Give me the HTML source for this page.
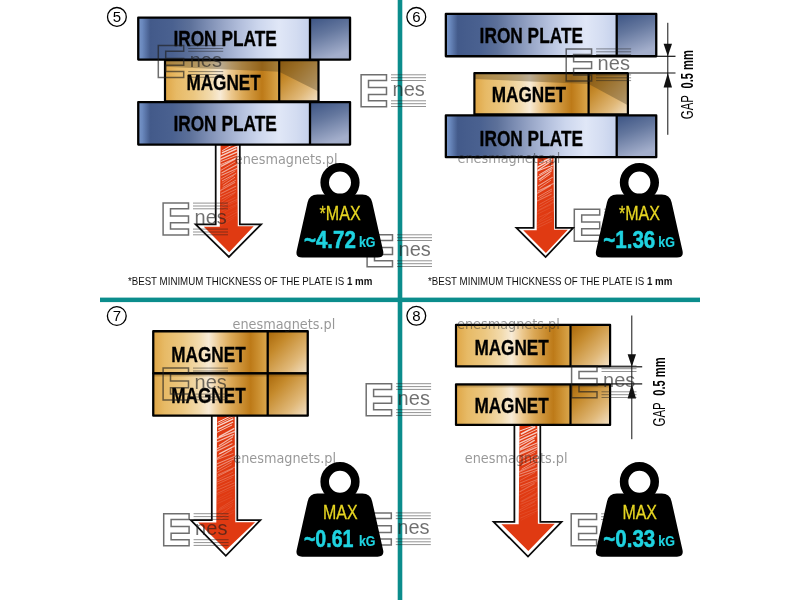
<!DOCTYPE html>
<html lang="en"><head><meta charset="utf-8"><title>Magnet pull force comparison</title>
<style>html,body{margin:0;padding:0;background:#fff}svg{display:block}</style></head>
<body>
<svg width="800" height="600" viewBox="0 0 800 600">
<defs>
<linearGradient id="pf" x1="0" y1="0" x2="1" y2="0">
<stop offset="0" stop-color="#7a98ca"/><stop offset="0.025" stop-color="#6987bc"/><stop offset="0.07" stop-color="#435a8a"/>
<stop offset="0.2" stop-color="#4a6190"/><stop offset="0.3" stop-color="#5c7099"/><stop offset="0.4" stop-color="#7b8cb2"/>
<stop offset="0.5" stop-color="#99a7c8"/><stop offset="0.6" stop-color="#b4c0dd"/><stop offset="0.7" stop-color="#ccd6ed"/>
<stop offset="0.82" stop-color="#e0e7f7"/><stop offset="0.92" stop-color="#d3dcf1"/><stop offset="1" stop-color="#c4d0eb"/>
</linearGradient>
<linearGradient id="ps" x1="0" y1="0" x2="0.35" y2="1">
<stop offset="0" stop-color="#3b5383"/><stop offset="0.45" stop-color="#64779e"/><stop offset="1" stop-color="#a3aecb"/>
</linearGradient>
<linearGradient id="mf" x1="0" y1="0" x2="1" y2="0">
<stop offset="0" stop-color="#dfa646"/><stop offset="0.1" stop-color="#e7ba66"/><stop offset="0.25" stop-color="#ecc780"/>
<stop offset="0.4" stop-color="#f2dbae"/><stop offset="0.485" stop-color="#f8ebd6"/><stop offset="0.58" stop-color="#ecc88e"/>
<stop offset="0.68" stop-color="#dba856"/><stop offset="0.8" stop-color="#c6882a"/><stop offset="0.85" stop-color="#bd7a18"/>
<stop offset="0.92" stop-color="#cb8f30"/><stop offset="1" stop-color="#dba84e"/>
</linearGradient>
<linearGradient id="ms" x1="0" y1="0" x2="1" y2="1">
<stop offset="0" stop-color="#a86608"/><stop offset="0.3" stop-color="#c58a2c"/><stop offset="0.7" stop-color="#e0b878"/><stop offset="1" stop-color="#f3e2c8"/>
</linearGradient>
<linearGradient id="sh" x1="0" y1="0" x2="0" y2="1">
<stop offset="0" stop-color="#5a3a08" stop-opacity="0.55"/><stop offset="1" stop-color="#5a3a08" stop-opacity="0"/>
</linearGradient>
<filter id="noop" filterUnits="userSpaceOnUse" x="0" y="0" width="800" height="600" color-interpolation-filters="sRGB"><feOffset dx="0" dy="0"/></filter>
</defs>
<rect width="800" height="600" fill="#fff"/>
<g filter="url(#noop)">

<rect x="397.7" y="0" width="4.6" height="600" fill="#0b8d8c"/>
<rect x="100" y="297.6" width="600" height="4.5" fill="#0b8d8c"/>
<path d="M215.7,143 L215.7,224.3 L195.6,224.3 L228.9,256.9 L261.2,224.3 L239.8,224.3 L239.8,143" fill="#fff" stroke="#0a0a0a" stroke-width="1.75" stroke-linejoin="miter"/>
<clipPath id="ac1"><path d="M220.6,143.5 L219.79999999999998,226.70000000000002 L203.79999999999998,226.70000000000002 L229.20000000000002,252.29999999999998 L253.7,226.3 L237.8,226.3 L237.20000000000002,143.5 Z"/></clipPath>
<path d="M220.6,143.5 L219.79999999999998,226.70000000000002 L203.79999999999998,226.70000000000002 L229.20000000000002,252.29999999999998 L253.7,226.3 L237.8,226.3 L237.20000000000002,143.5 Z" fill="#e03a12"/>
<g clip-path="url(#ac1)" stroke="#fff" stroke-linecap="round" fill="none">
<path d="M222.6,150.5 L234.8,143.5" stroke-width="0.88" opacity="0.83"/>
<path d="M222.4,152.7 L237.8,145.8" stroke-width="1.31" opacity="0.79"/>
<path d="M219.6,156.7 L236.2,149.0" stroke-width="1.38" opacity="0.76"/>
<path d="M219.7,159.6 L238.1,151.6" stroke-width="1.47" opacity="0.72"/>
<path d="M221.1,161.5 L238.1,154.7" stroke-width="0.89" opacity="0.69"/>
<path d="M220.4,164.7 L237.2,157.5" stroke-width="0.89" opacity="0.66"/>
<path d="M221.5,166.2 L235.3,158.8" stroke-width="1.36" opacity="0.64"/>
<path d="M220.8,170.4 L235.0,162.1" stroke-width="0.77" opacity="0.60"/>
<path d="M221.9,172.8 L236.8,164.7" stroke-width="1.30" opacity="0.57"/>
<path d="M221.7,175.3 L238.0,168.0" stroke-width="1.03" opacity="0.53"/>
<path d="M221.5,178.7 L235.0,171.0" stroke-width="0.77" opacity="0.50"/>
<path d="M222.3,180.8 L235.9,173.5" stroke-width="1.00" opacity="0.47"/>
<path d="M222.1,183.2 L233.8,175.6" stroke-width="0.65" opacity="0.44"/>
<path d="M223.0,185.3 L234.7,177.4" stroke-width="0.97" opacity="0.41"/>
<path d="M222.9,187.5 L235.6,180.3" stroke-width="0.96" opacity="0.39"/>
<path d="M219.6,191.0 L234.7,182.5" stroke-width="1.24" opacity="0.35"/>
<path d="M221.4,193.3 L235.7,186.3" stroke-width="1.11" opacity="0.32"/>
<path d="M220.3,196.6 L235.9,189.3" stroke-width="0.93" opacity="0.28"/>
<path d="M221.8,199.0 L235.4,192.1" stroke-width="0.90" opacity="0.25"/>
<path d="M221.6,202.0 L234.3,193.6" stroke-width="0.65" opacity="0.22"/>
<path d="M222.5,203.7 L235.2,197.5" stroke-width="0.69" opacity="0.18"/>
<path d="M220.5,206.8 L237.7,199.2" stroke-width="0.97" opacity="0.16"/>
<path d="M221.4,208.2 L237.4,201.0" stroke-width="0.61" opacity="0.13"/>
<path d="M221.3,211.1 L238.1,203.9" stroke-width="0.69" opacity="0.12"/>
<path d="M222.7,213.0 L235.9,206.0" stroke-width="0.55" opacity="0.12"/>
<path d="M219.7,217.2 L237.5,209.6" stroke-width="0.49" opacity="0.12"/>
<path d="M221.5,220.7 L237.2,211.9" stroke-width="0.83" opacity="0.12"/>
<path d="M221.9,222.6 L236.4,215.1" stroke-width="0.57" opacity="0.12"/>
<path d="M220.6,226.1 L233.8,218.0" stroke-width="0.47" opacity="0.12"/>
</g>
<path d="M533.6,156 L533.6,227.8 L516.4,227.8 L545.6,257.1 L573.2,227.8 L555.8,227.8 L555.8,156" fill="#fff" stroke="#0a0a0a" stroke-width="1.75" stroke-linejoin="miter"/>
<clipPath id="ac2"><path d="M537.5,156.5 L536.7,230.20000000000002 L523.1999999999999,230.20000000000002 L545.9,252.90000000000003 L567.8000000000001,229.8 L554.1,229.8 L553.5,156.5 Z"/></clipPath>
<path d="M537.5,156.5 L536.7,230.20000000000002 L523.1999999999999,230.20000000000002 L545.9,252.90000000000003 L567.8000000000001,229.8 L554.1,229.8 L553.5,156.5 Z" fill="#e03a12"/>
<g clip-path="url(#ac2)" stroke="#fff" stroke-linecap="round" fill="none">
<path d="M539.8,163.2 L554.2,156.2" stroke-width="1.59" opacity="0.82"/>
<path d="M537.6,167.2 L551.8,159.4" stroke-width="1.32" opacity="0.78"/>
<path d="M537.9,170.2 L551.2,161.3" stroke-width="1.10" opacity="0.75"/>
<path d="M537.4,171.1 L554.3,164.5" stroke-width="1.09" opacity="0.71"/>
<path d="M539.6,174.6 L552.1,167.2" stroke-width="1.02" opacity="0.68"/>
<path d="M537.0,177.5 L552.2,168.8" stroke-width="0.96" opacity="0.65"/>
<path d="M539.3,179.6 L551.2,171.0" stroke-width="1.39" opacity="0.62"/>
<path d="M539.9,181.2 L550.2,174.1" stroke-width="0.95" opacity="0.58"/>
<path d="M538.4,185.7 L552.3,177.4" stroke-width="1.01" opacity="0.54"/>
<path d="M539.6,187.9 L550.5,180.5" stroke-width="0.90" opacity="0.50"/>
<path d="M538.2,191.0 L553.5,183.6" stroke-width="1.15" opacity="0.45"/>
<path d="M537.4,193.2 L550.4,185.6" stroke-width="1.26" opacity="0.42"/>
<path d="M538.3,196.7 L551.6,189.2" stroke-width="0.95" opacity="0.38"/>
<path d="M539.8,198.0 L551.7,191.0" stroke-width="0.94" opacity="0.35"/>
<path d="M537.2,201.0 L551.1,194.2" stroke-width="1.17" opacity="0.31"/>
<path d="M539.6,204.3 L554.0,196.4" stroke-width="0.71" opacity="0.28"/>
<path d="M539.6,207.0 L552.6,199.5" stroke-width="0.69" opacity="0.24"/>
<path d="M538.9,210.0 L554.1,202.0" stroke-width="0.65" opacity="0.21"/>
<path d="M537.4,211.4 L550.8,204.9" stroke-width="0.54" opacity="0.17"/>
<path d="M536.7,214.4 L550.0,208.0" stroke-width="0.74" opacity="0.13"/>
<path d="M539.1,217.2 L554.0,210.5" stroke-width="0.85" opacity="0.12"/>
<path d="M539.1,220.7 L550.4,212.3" stroke-width="0.91" opacity="0.12"/>
<path d="M537.3,222.8 L551.5,216.1" stroke-width="0.73" opacity="0.12"/>
<path d="M536.9,225.6 L551.9,218.3" stroke-width="0.92" opacity="0.12"/>
<path d="M537.4,227.8 L551.8,221.0" stroke-width="0.94" opacity="0.12"/>
</g>
<path d="M211.8,414 L211.8,520.2 L190.8,520.2 L225.8,555.8 L260.4,520.2 L237.3,520.2 L237.3,414" fill="#fff" stroke="#0a0a0a" stroke-width="1.75" stroke-linejoin="miter"/>
<clipPath id="ac3"><path d="M217.10000000000002,414.5 L216.3,522.6 L198.20000000000002,522.6 L226.10000000000002,550.0 L255.09999999999997,522.2 L235.3,522.2 L234.70000000000002,414.5 Z"/></clipPath>
<path d="M217.10000000000002,414.5 L216.3,522.6 L198.20000000000002,522.6 L226.10000000000002,550.0 L255.09999999999997,522.2 L235.3,522.2 L234.70000000000002,414.5 Z" fill="#e03a12"/>
<g clip-path="url(#ac3)" stroke="#fff" stroke-linecap="round" fill="none">
<path d="M218.0,422.2 L234.0,414.4" stroke-width="0.97" opacity="0.83"/>
<path d="M219.0,423.6 L234.5,416.1" stroke-width="0.77" opacity="0.81"/>
<path d="M217.8,426.1 L232.8,419.1" stroke-width="1.46" opacity="0.79"/>
<path d="M218.7,429.1 L232.7,422.2" stroke-width="1.18" opacity="0.76"/>
<path d="M216.2,432.7 L231.8,425.1" stroke-width="0.98" opacity="0.73"/>
<path d="M219.3,436.6 L233.9,428.6" stroke-width="1.30" opacity="0.70"/>
<path d="M216.4,438.8 L235.1,431.4" stroke-width="1.42" opacity="0.67"/>
<path d="M217.2,441.7 L233.4,434.6" stroke-width="1.20" opacity="0.65"/>
<path d="M219.3,445.6 L232.6,436.9" stroke-width="1.15" opacity="0.62"/>
<path d="M216.7,449.1 L231.8,440.2" stroke-width="1.20" opacity="0.59"/>
<path d="M216.8,451.1 L232.0,443.7" stroke-width="1.21" opacity="0.57"/>
<path d="M219.6,453.6 L235.3,445.6" stroke-width="1.31" opacity="0.55"/>
<path d="M218.8,454.3 L231.8,447.6" stroke-width="0.87" opacity="0.53"/>
<path d="M217.3,458.3 L231.7,449.8" stroke-width="1.18" opacity="0.51"/>
<path d="M216.4,459.8 L233.0,453.5" stroke-width="0.86" opacity="0.48"/>
<path d="M216.6,464.0 L235.5,456.0" stroke-width="1.07" opacity="0.45"/>
<path d="M217.4,466.7 L233.6,459.0" stroke-width="1.25" opacity="0.42"/>
<path d="M218.3,469.5 L231.5,462.0" stroke-width="0.99" opacity="0.39"/>
<path d="M217.2,472.5 L231.3,464.9" stroke-width="0.76" opacity="0.37"/>
<path d="M218.1,474.7 L235.6,466.8" stroke-width="0.87" opacity="0.35"/>
<path d="M217.7,476.3 L232.6,468.9" stroke-width="1.00" opacity="0.33"/>
<path d="M216.3,480.5 L232.7,472.3" stroke-width="0.59" opacity="0.30"/>
<path d="M217.2,481.9 L234.1,474.9" stroke-width="0.95" opacity="0.28"/>
<path d="M217.4,484.1 L232.2,477.5" stroke-width="0.75" opacity="0.25"/>
<path d="M216.9,487.6 L232.1,480.9" stroke-width="0.74" opacity="0.22"/>
<path d="M216.5,490.4 L234.3,482.9" stroke-width="0.97" opacity="0.20"/>
<path d="M216.7,493.6 L234.2,485.4" stroke-width="1.04" opacity="0.18"/>
<path d="M216.5,495.3 L233.3,488.1" stroke-width="0.65" opacity="0.15"/>
<path d="M217.1,499.4 L232.1,491.3" stroke-width="0.62" opacity="0.12"/>
<path d="M217.1,501.2 L232.1,494.3" stroke-width="0.58" opacity="0.12"/>
<path d="M217.5,503.5 L231.6,497.2" stroke-width="0.73" opacity="0.12"/>
<path d="M219.6,508.4 L233.7,499.6" stroke-width="0.97" opacity="0.12"/>
<path d="M219.0,509.9 L232.7,502.5" stroke-width="0.88" opacity="0.12"/>
<path d="M216.3,511.9 L233.1,504.5" stroke-width="0.59" opacity="0.12"/>
<path d="M218.5,515.2 L231.5,506.5" stroke-width="0.93" opacity="0.12"/>
<path d="M218.7,516.8 L234.9,509.5" stroke-width="0.46" opacity="0.12"/>
<path d="M219.4,519.6 L232.9,512.7" stroke-width="0.65" opacity="0.12"/>
</g>
<path d="M514.4,424 L514.4,521.8 L493.6,521.8 L528,556.6 L561.6,521.8 L540.3,521.8 L540.3,424" fill="#fff" stroke="#0a0a0a" stroke-width="1.75" stroke-linejoin="miter"/>
<clipPath id="ac4"><path d="M519.5,424.5 L518.7,524.1999999999999 L501.40000000000003,524.1999999999999 L528.3,551.0 L554.8000000000001,523.8 L537.9,523.8 L537.3,424.5 Z"/></clipPath>
<path d="M519.5,424.5 L518.7,524.1999999999999 L501.40000000000003,524.1999999999999 L528.3,551.0 L554.8000000000001,523.8 L537.9,523.8 L537.3,424.5 Z" fill="#e03a12"/>
<g clip-path="url(#ac4)" stroke="#fff" stroke-linecap="round" fill="none">
<path d="M518.9,431.3 L536.5,424.9" stroke-width="0.97" opacity="0.83"/>
<path d="M521.3,434.0 L534.9,427.0" stroke-width="1.54" opacity="0.80"/>
<path d="M518.9,437.8 L537.3,429.1" stroke-width="0.89" opacity="0.78"/>
<path d="M519.2,440.3 L536.9,432.3" stroke-width="1.41" opacity="0.75"/>
<path d="M518.8,443.6 L535.6,435.8" stroke-width="1.45" opacity="0.72"/>
<path d="M518.8,446.3 L534.1,438.0" stroke-width="1.10" opacity="0.69"/>
<path d="M520.5,448.6 L534.3,440.4" stroke-width="1.44" opacity="0.67"/>
<path d="M520.0,450.1 L537.6,442.7" stroke-width="1.17" opacity="0.64"/>
<path d="M520.7,452.7 L537.0,445.1" stroke-width="0.73" opacity="0.62"/>
<path d="M519.2,454.5 L536.4,447.4" stroke-width="1.46" opacity="0.60"/>
<path d="M521.1,457.6 L536.9,449.5" stroke-width="0.94" opacity="0.58"/>
<path d="M519.3,459.8 L534.9,452.4" stroke-width="0.71" opacity="0.55"/>
<path d="M520.1,462.5 L538.1,454.2" stroke-width="0.79" opacity="0.53"/>
<path d="M521.9,465.0 L538.2,457.4" stroke-width="1.18" opacity="0.50"/>
<path d="M521.8,469.1 L535.5,461.2" stroke-width="0.93" opacity="0.47"/>
<path d="M519.0,471.7 L536.6,463.4" stroke-width="0.94" opacity="0.44"/>
<path d="M519.1,472.5 L534.8,465.5" stroke-width="0.65" opacity="0.42"/>
<path d="M520.0,474.0 L537.4,467.8" stroke-width="1.29" opacity="0.40"/>
<path d="M519.0,477.1 L538.1,469.9" stroke-width="1.07" opacity="0.38"/>
<path d="M520.4,480.3 L534.8,472.5" stroke-width="0.67" opacity="0.34"/>
<path d="M519.9,483.0 L538.1,475.9" stroke-width="0.74" opacity="0.32"/>
<path d="M520.2,486.0 L538.2,479.2" stroke-width="1.11" opacity="0.29"/>
<path d="M521.5,487.8 L537.7,480.8" stroke-width="0.71" opacity="0.26"/>
<path d="M519.9,491.8 L534.2,483.7" stroke-width="1.17" opacity="0.24"/>
<path d="M518.8,495.3 L537.4,486.7" stroke-width="0.84" opacity="0.20"/>
<path d="M520.8,498.1 L534.7,490.0" stroke-width="0.73" opacity="0.17"/>
<path d="M520.9,501.4 L537.1,492.6" stroke-width="0.90" opacity="0.14"/>
<path d="M521.9,501.8 L535.3,494.8" stroke-width="1.08" opacity="0.12"/>
<path d="M520.8,504.2 L538.0,497.2" stroke-width="1.06" opacity="0.12"/>
<path d="M521.7,506.7 L537.3,499.8" stroke-width="0.91" opacity="0.12"/>
<path d="M518.9,510.3 L534.7,501.8" stroke-width="0.97" opacity="0.12"/>
<path d="M519.2,512.1 L535.3,504.6" stroke-width="0.95" opacity="0.12"/>
<path d="M520.3,514.6 L538.2,508.0" stroke-width="0.71" opacity="0.12"/>
<path d="M520.6,518.0 L537.7,510.5" stroke-width="0.90" opacity="0.12"/>
<path d="M521.4,520.1 L534.6,513.4" stroke-width="0.45" opacity="0.12"/>
</g>
<rect x="165.0" y="60.1" width="114.20" height="41.30" fill="url(#mf)"/>
<rect x="279.2" y="60.1" width="39.30" height="41.30" fill="url(#ms)"/>
<polygon points="165.0,60.1 279.2,60.1 279.2,71.7 165.0,66.7" fill="#4a3a1c" opacity="0.36"/>
<polygon points="279.2,60.1 318.5,60.1 318.5,91.6 279.2,71.7" fill="#4a3a1c" opacity="0.36"/>
<rect x="165.0" y="60.1" width="153.50" height="41.30" fill="none" stroke="#000" stroke-width="2.2" stroke-linejoin="round"/>
<line x1="279.2" y1="60.1" x2="279.2" y2="101.4" stroke="#000" stroke-width="2.2"/>
<text x="186.4" y="89.7" font-family="Liberation Sans, Arial, sans-serif" font-size="21.2" font-weight="bold" fill="#000" text-anchor="start" textLength="74.4" lengthAdjust="spacingAndGlyphs" stroke="#000" stroke-width="0.3" stroke-linejoin="round">MAGNET</text>
<rect x="138.25" y="17.549999999999997" width="171.75" height="42.00" fill="url(#pf)"/>
<rect x="310" y="17.549999999999997" width="40.05" height="42.00" fill="url(#ps)"/>
<rect x="138.25" y="17.549999999999997" width="211.80" height="42.00" fill="none" stroke="#000" stroke-width="2.3" stroke-linejoin="round"/>
<line x1="310" y1="17.549999999999997" x2="310" y2="59.550000000000004" stroke="#000" stroke-width="2.3"/>
<text x="173.4" y="46.0" font-family="Liberation Sans, Arial, sans-serif" font-size="21.2" font-weight="bold" fill="#000" text-anchor="start" textLength="103.4" lengthAdjust="spacingAndGlyphs" stroke="#000" stroke-width="0.3" stroke-linejoin="round">IRON PLATE</text>
<rect x="138.25" y="102.05000000000001" width="171.75" height="42.50" fill="url(#pf)"/>
<rect x="310" y="102.05000000000001" width="40.05" height="42.50" fill="url(#ps)"/>
<rect x="138.25" y="102.05000000000001" width="211.80" height="42.50" fill="none" stroke="#000" stroke-width="2.3" stroke-linejoin="round"/>
<line x1="310" y1="102.05000000000001" x2="310" y2="144.54999999999998" stroke="#000" stroke-width="2.3"/>
<text x="173.4" y="130.8" font-family="Liberation Sans, Arial, sans-serif" font-size="21.2" font-weight="bold" fill="#000" text-anchor="start" textLength="103.4" lengthAdjust="spacingAndGlyphs" stroke="#000" stroke-width="0.3" stroke-linejoin="round">IRON PLATE</text>
<rect x="474.40000000000003" y="73.1" width="114.20" height="41.30" fill="url(#mf)"/>
<rect x="588.6" y="73.1" width="39.30" height="41.30" fill="url(#ms)"/>
<polygon points="474.40000000000003,73.1 588.6,73.1 588.6,84.0 474.40000000000003,79.0" fill="#4a3a1c" opacity="0.36"/>
<polygon points="588.6,73.1 627.9,73.1 627.9,105.19999999999999 588.6,84.0" fill="#4a3a1c" opacity="0.36"/>
<rect x="474.40000000000003" y="73.1" width="153.50" height="41.30" fill="none" stroke="#000" stroke-width="2.2" stroke-linejoin="round"/>
<line x1="588.6" y1="73.1" x2="588.6" y2="114.4" stroke="#000" stroke-width="2.2"/>
<text x="491.7" y="102.4" font-family="Liberation Sans, Arial, sans-serif" font-size="21.2" font-weight="bold" fill="#000" text-anchor="start" textLength="74.4" lengthAdjust="spacingAndGlyphs" stroke="#000" stroke-width="0.3" stroke-linejoin="round">MAGNET</text>
<rect x="445.84999999999997" y="13.950000000000001" width="170.85" height="42.30" fill="url(#pf)"/>
<rect x="616.7" y="13.950000000000001" width="39.55" height="42.30" fill="url(#ps)"/>
<rect x="445.84999999999997" y="13.950000000000001" width="210.40" height="42.30" fill="none" stroke="#000" stroke-width="2.3" stroke-linejoin="round"/>
<line x1="616.7" y1="13.950000000000001" x2="616.7" y2="56.25" stroke="#000" stroke-width="2.3"/>
<text x="479.6" y="43.3" font-family="Liberation Sans, Arial, sans-serif" font-size="21.2" font-weight="bold" fill="#000" text-anchor="start" textLength="103.4" lengthAdjust="spacingAndGlyphs" stroke="#000" stroke-width="0.3" stroke-linejoin="round">IRON PLATE</text>
<rect x="445.84999999999997" y="115.45" width="170.85" height="41.70" fill="url(#pf)"/>
<rect x="616.7" y="115.45" width="39.55" height="41.70" fill="url(#ps)"/>
<rect x="445.84999999999997" y="115.45" width="210.40" height="41.70" fill="none" stroke="#000" stroke-width="2.3" stroke-linejoin="round"/>
<line x1="616.7" y1="115.45" x2="616.7" y2="157.15" stroke="#000" stroke-width="2.3"/>
<text x="479.6" y="145.6" font-family="Liberation Sans, Arial, sans-serif" font-size="21.2" font-weight="bold" fill="#000" text-anchor="start" textLength="103.4" lengthAdjust="spacingAndGlyphs" stroke="#000" stroke-width="0.3" stroke-linejoin="round">IRON PLATE</text>
<line x1="667.8" y1="22.8" x2="667.8" y2="134.8" stroke="#111" stroke-width="1"/>
<line x1="657" y1="56.3" x2="675.5" y2="56.3" stroke="#111" stroke-width="1.2"/>
<line x1="629" y1="73" x2="675.5" y2="73" stroke="#111" stroke-width="1.2"/>
<polygon points="667.8,56.3 663.5999999999999,43.8 672.0,43.8" fill="#111"/>
<polygon points="667.8,73 663.5999999999999,87.5 672.0,87.5" fill="#111"/>
<g transform="translate(693.3,118.7) rotate(-90)">
<text x="-0.5" y="0" font-family="Liberation Sans, Arial, sans-serif" font-size="16.2" fill="#000" textLength="24.2" lengthAdjust="spacingAndGlyphs">GAP</text>
<text x="30.3" y="0" font-family="Liberation Sans, Arial, sans-serif" font-size="16.2" font-weight="bold" fill="#000" textLength="38.2" lengthAdjust="spacingAndGlyphs">0.5 mm</text>
</g>
<rect x="153.25" y="331.25" width="114.45" height="42.15" fill="url(#mf)"/>
<rect x="267.7" y="331.25" width="40.05" height="42.15" fill="url(#ms)"/>
<rect x="153.25" y="331.25" width="154.50" height="42.15" fill="none" stroke="#000" stroke-width="2.3" stroke-linejoin="round"/>
<line x1="267.7" y1="331.25" x2="267.7" y2="373.40000000000003" stroke="#000" stroke-width="2.3"/>
<text x="171.3" y="361.5" font-family="Liberation Sans, Arial, sans-serif" font-size="21.2" font-weight="bold" fill="#000" text-anchor="start" textLength="74.4" lengthAdjust="spacingAndGlyphs" stroke="#000" stroke-width="0.3" stroke-linejoin="round">MAGNET</text>
<rect x="153.25" y="373.4" width="114.45" height="42.25" fill="url(#mf)"/>
<rect x="267.7" y="373.4" width="40.05" height="42.25" fill="url(#ms)"/>
<rect x="153.25" y="373.4" width="154.50" height="4" fill="url(#sh)"/>
<rect x="153.25" y="373.4" width="154.50" height="42.25" fill="none" stroke="#000" stroke-width="2.3" stroke-linejoin="round"/>
<line x1="267.7" y1="373.4" x2="267.7" y2="415.65000000000003" stroke="#000" stroke-width="2.3"/>
<text x="171.3" y="403.4" font-family="Liberation Sans, Arial, sans-serif" font-size="21.2" font-weight="bold" fill="#000" text-anchor="start" textLength="74.4" lengthAdjust="spacingAndGlyphs" stroke="#000" stroke-width="0.3" stroke-linejoin="round">MAGNET</text>
<rect x="456.0" y="324.8" width="114.50" height="41.60" fill="url(#mf)"/>
<rect x="570.5" y="324.8" width="39.60" height="41.60" fill="url(#ms)"/>
<rect x="456.0" y="324.8" width="154.10" height="41.60" fill="none" stroke="#000" stroke-width="2.2" stroke-linejoin="round"/>
<line x1="570.5" y1="324.8" x2="570.5" y2="366.4" stroke="#000" stroke-width="2.2"/>
<text x="474.4" y="354.6" font-family="Liberation Sans, Arial, sans-serif" font-size="21.2" font-weight="bold" fill="#000" text-anchor="start" textLength="74.4" lengthAdjust="spacingAndGlyphs" stroke="#000" stroke-width="0.3" stroke-linejoin="round">MAGNET</text>
<rect x="456.0" y="384.3" width="114.50" height="40.60" fill="url(#mf)"/>
<rect x="570.5" y="384.3" width="39.60" height="40.60" fill="url(#ms)"/>
<rect x="456.0" y="384.3" width="154.10" height="4" fill="url(#sh)"/>
<rect x="456.0" y="384.3" width="154.10" height="40.60" fill="none" stroke="#000" stroke-width="2.2" stroke-linejoin="round"/>
<line x1="570.5" y1="384.3" x2="570.5" y2="424.9" stroke="#000" stroke-width="2.2"/>
<text x="474.4" y="413.4" font-family="Liberation Sans, Arial, sans-serif" font-size="21.2" font-weight="bold" fill="#000" text-anchor="start" textLength="74.4" lengthAdjust="spacingAndGlyphs" stroke="#000" stroke-width="0.3" stroke-linejoin="round">MAGNET</text>
<line x1="631.8" y1="315.5" x2="631.8" y2="439.2" stroke="#111" stroke-width="1"/>
<line x1="611" y1="366.8" x2="642.2" y2="366.8" stroke="#111" stroke-width="1.2"/>
<line x1="611" y1="383.9" x2="642.2" y2="383.9" stroke="#111" stroke-width="1.2"/>
<polygon points="631.8,366.8 627.5999999999999,354.3 636.0,354.3" fill="#111"/>
<polygon points="631.8,383.9 627.5999999999999,398.4 636.0,398.4" fill="#111"/>
<g transform="translate(664.8,426) rotate(-90)">
<text x="-0.5" y="0" font-family="Liberation Sans, Arial, sans-serif" font-size="16.2" fill="#000" textLength="24.2" lengthAdjust="spacingAndGlyphs">GAP</text>
<text x="30.3" y="0" font-family="Liberation Sans, Arial, sans-serif" font-size="16.2" font-weight="bold" fill="#000" textLength="38.2" lengthAdjust="spacingAndGlyphs">0.5 mm</text>
</g>
<text x="127.9" y="285" font-family="Liberation Sans, Arial, sans-serif" font-size="11.5" fill="#111" textLength="244.5" lengthAdjust="spacingAndGlyphs">*BEST MINIMUM THICKNESS OF THE PLATE IS <tspan font-weight="bold">1 mm</tspan></text>
<text x="427.9" y="285" font-family="Liberation Sans, Arial, sans-serif" font-size="11.5" fill="#111" textLength="244.5" lengthAdjust="spacingAndGlyphs">*BEST MINIMUM THICKNESS OF THE PLATE IS <tspan font-weight="bold">1 mm</tspan></text>
<circle cx="116.9" cy="16.9" r="9.4" fill="none" stroke="#000" stroke-width="1.3"/>
<text x="116.9" y="22.299999999999997" font-family="Liberation Sans, Arial, sans-serif" font-size="15" fill="#000" text-anchor="middle">5</text>
<circle cx="416.3" cy="16.9" r="9.4" fill="none" stroke="#000" stroke-width="1.3"/>
<text x="416.3" y="22.299999999999997" font-family="Liberation Sans, Arial, sans-serif" font-size="15" fill="#000" text-anchor="middle">6</text>
<circle cx="116.8" cy="316" r="9.4" fill="none" stroke="#000" stroke-width="1.3"/>
<text x="116.8" y="321.4" font-family="Liberation Sans, Arial, sans-serif" font-size="15" fill="#000" text-anchor="middle">7</text>
<circle cx="416.3" cy="315.8" r="9.4" fill="none" stroke="#000" stroke-width="1.3"/>
<text x="416.3" y="321.2" font-family="Liberation Sans, Arial, sans-serif" font-size="15" fill="#000" text-anchor="middle">8</text>
<g transform="translate(157.7,45)">
<path d="M0.6,0.6 H26 V6.3 H8 V13.4 H26 V20.2 H8 V26.6 H26 V32.6 H0.6 Z" fill="none" stroke="rgba(30,30,30,0.64)" stroke-width="1.5" stroke-linejoin="miter"/>
<line x1="30.5" y1="0.6" x2="65.5" y2="0.6" stroke="rgba(30,30,30,0.64)" stroke-width="0.75"/>
<line x1="30.5" y1="3.5" x2="65.5" y2="3.5" stroke="rgba(30,30,30,0.64)" stroke-width="0.75"/>
<line x1="30.5" y1="6.3" x2="65.5" y2="6.3" stroke="rgba(30,30,30,0.64)" stroke-width="0.75"/>
<line x1="30.5" y1="26.6" x2="65.5" y2="26.6" stroke="rgba(30,30,30,0.64)" stroke-width="0.75"/>
<line x1="30.5" y1="29.5" x2="65.5" y2="29.5" stroke="rgba(30,30,30,0.64)" stroke-width="0.75"/>
<line x1="30.5" y1="32.3" x2="65.5" y2="32.3" stroke="rgba(30,30,30,0.64)" stroke-width="0.75"/>
<text x="32" y="21.6" font-family="Liberation Sans, Arial, sans-serif" font-size="20.5" fill="rgba(30,30,30,0.64)" textLength="32.3" lengthAdjust="spacingAndGlyphs">nes</text>
</g>
<g transform="translate(360.5,74.2)">
<path d="M0.6,0.6 H26 V6.3 H8 V13.4 H26 V20.2 H8 V26.6 H26 V32.6 H0.6 Z" fill="none" stroke="rgba(30,30,30,0.64)" stroke-width="1.5" stroke-linejoin="miter"/>
<line x1="30.5" y1="0.6" x2="65.5" y2="0.6" stroke="rgba(30,30,30,0.64)" stroke-width="0.75"/>
<line x1="30.5" y1="3.5" x2="65.5" y2="3.5" stroke="rgba(30,30,30,0.64)" stroke-width="0.75"/>
<line x1="30.5" y1="6.3" x2="65.5" y2="6.3" stroke="rgba(30,30,30,0.64)" stroke-width="0.75"/>
<line x1="30.5" y1="26.6" x2="65.5" y2="26.6" stroke="rgba(30,30,30,0.64)" stroke-width="0.75"/>
<line x1="30.5" y1="29.5" x2="65.5" y2="29.5" stroke="rgba(30,30,30,0.64)" stroke-width="0.75"/>
<line x1="30.5" y1="32.3" x2="65.5" y2="32.3" stroke="rgba(30,30,30,0.64)" stroke-width="0.75"/>
<text x="32" y="21.6" font-family="Liberation Sans, Arial, sans-serif" font-size="20.5" fill="rgba(30,30,30,0.64)" textLength="32.3" lengthAdjust="spacingAndGlyphs">nes</text>
</g>
<g transform="translate(565.6,48.3)">
<path d="M0.6,0.6 H26 V6.3 H8 V13.4 H26 V20.2 H8 V26.6 H26 V32.6 H0.6 Z" fill="none" stroke="rgba(30,30,30,0.64)" stroke-width="1.5" stroke-linejoin="miter"/>
<line x1="30.5" y1="0.6" x2="65.5" y2="0.6" stroke="rgba(30,30,30,0.64)" stroke-width="0.75"/>
<line x1="30.5" y1="3.5" x2="65.5" y2="3.5" stroke="rgba(30,30,30,0.64)" stroke-width="0.75"/>
<line x1="30.5" y1="6.3" x2="65.5" y2="6.3" stroke="rgba(30,30,30,0.64)" stroke-width="0.75"/>
<line x1="30.5" y1="26.6" x2="65.5" y2="26.6" stroke="rgba(30,30,30,0.64)" stroke-width="0.75"/>
<line x1="30.5" y1="29.5" x2="65.5" y2="29.5" stroke="rgba(30,30,30,0.64)" stroke-width="0.75"/>
<line x1="30.5" y1="32.3" x2="65.5" y2="32.3" stroke="rgba(30,30,30,0.64)" stroke-width="0.75"/>
<text x="32" y="21.6" font-family="Liberation Sans, Arial, sans-serif" font-size="20.5" fill="rgba(30,30,30,0.64)" textLength="32.3" lengthAdjust="spacingAndGlyphs">nes</text>
</g>
<g transform="translate(162.5,202.5)">
<path d="M0.6,0.6 H26 V6.3 H8 V13.4 H26 V20.2 H8 V26.6 H26 V32.6 H0.6 Z" fill="none" stroke="rgba(30,30,30,0.64)" stroke-width="1.5" stroke-linejoin="miter"/>
<line x1="30.5" y1="0.6" x2="65.5" y2="0.6" stroke="rgba(30,30,30,0.64)" stroke-width="0.75"/>
<line x1="30.5" y1="3.5" x2="65.5" y2="3.5" stroke="rgba(30,30,30,0.64)" stroke-width="0.75"/>
<line x1="30.5" y1="6.3" x2="65.5" y2="6.3" stroke="rgba(30,30,30,0.64)" stroke-width="0.75"/>
<line x1="30.5" y1="26.6" x2="65.5" y2="26.6" stroke="rgba(30,30,30,0.64)" stroke-width="0.75"/>
<line x1="30.5" y1="29.5" x2="65.5" y2="29.5" stroke="rgba(30,30,30,0.64)" stroke-width="0.75"/>
<line x1="30.5" y1="32.3" x2="65.5" y2="32.3" stroke="rgba(30,30,30,0.64)" stroke-width="0.75"/>
<text x="32" y="21.6" font-family="Liberation Sans, Arial, sans-serif" font-size="20.5" fill="rgba(30,30,30,0.64)" textLength="32.3" lengthAdjust="spacingAndGlyphs">nes</text>
</g>
<g transform="translate(366.5,234.2)">
<path d="M0.6,0.6 H26 V6.3 H8 V13.4 H26 V20.2 H8 V26.6 H26 V32.6 H0.6 Z" fill="none" stroke="rgba(30,30,30,0.64)" stroke-width="1.5" stroke-linejoin="miter"/>
<line x1="30.5" y1="0.6" x2="65.5" y2="0.6" stroke="rgba(30,30,30,0.64)" stroke-width="0.75"/>
<line x1="30.5" y1="3.5" x2="65.5" y2="3.5" stroke="rgba(30,30,30,0.64)" stroke-width="0.75"/>
<line x1="30.5" y1="6.3" x2="65.5" y2="6.3" stroke="rgba(30,30,30,0.64)" stroke-width="0.75"/>
<line x1="30.5" y1="26.6" x2="65.5" y2="26.6" stroke="rgba(30,30,30,0.64)" stroke-width="0.75"/>
<line x1="30.5" y1="29.5" x2="65.5" y2="29.5" stroke="rgba(30,30,30,0.64)" stroke-width="0.75"/>
<line x1="30.5" y1="32.3" x2="65.5" y2="32.3" stroke="rgba(30,30,30,0.64)" stroke-width="0.75"/>
<text x="32" y="21.6" font-family="Liberation Sans, Arial, sans-serif" font-size="20.5" fill="rgba(30,30,30,0.64)" textLength="32.3" lengthAdjust="spacingAndGlyphs">nes</text>
</g>
<g transform="translate(573.7,208.6)">
<path d="M0.6,0.6 H26 V6.3 H8 V13.4 H26 V20.2 H8 V26.6 H26 V32.6 H0.6 Z" fill="none" stroke="rgba(30,30,30,0.64)" stroke-width="1.5" stroke-linejoin="miter"/>
<line x1="30.5" y1="0.6" x2="65.5" y2="0.6" stroke="rgba(30,30,30,0.64)" stroke-width="0.75"/>
<line x1="30.5" y1="3.5" x2="65.5" y2="3.5" stroke="rgba(30,30,30,0.64)" stroke-width="0.75"/>
<line x1="30.5" y1="6.3" x2="65.5" y2="6.3" stroke="rgba(30,30,30,0.64)" stroke-width="0.75"/>
<line x1="30.5" y1="26.6" x2="65.5" y2="26.6" stroke="rgba(30,30,30,0.64)" stroke-width="0.75"/>
<line x1="30.5" y1="29.5" x2="65.5" y2="29.5" stroke="rgba(30,30,30,0.64)" stroke-width="0.75"/>
<line x1="30.5" y1="32.3" x2="65.5" y2="32.3" stroke="rgba(30,30,30,0.64)" stroke-width="0.75"/>
<text x="32" y="21.6" font-family="Liberation Sans, Arial, sans-serif" font-size="20.5" fill="rgba(30,30,30,0.64)" textLength="32.3" lengthAdjust="spacingAndGlyphs">nes</text>
</g>
<g transform="translate(162.5,367.5)">
<path d="M0.6,0.6 H26 V6.3 H8 V13.4 H26 V20.2 H8 V26.6 H26 V32.6 H0.6 Z" fill="none" stroke="rgba(30,30,30,0.64)" stroke-width="1.5" stroke-linejoin="miter"/>
<line x1="30.5" y1="0.6" x2="65.5" y2="0.6" stroke="rgba(30,30,30,0.64)" stroke-width="0.75"/>
<line x1="30.5" y1="3.5" x2="65.5" y2="3.5" stroke="rgba(30,30,30,0.64)" stroke-width="0.75"/>
<line x1="30.5" y1="6.3" x2="65.5" y2="6.3" stroke="rgba(30,30,30,0.64)" stroke-width="0.75"/>
<line x1="30.5" y1="26.6" x2="65.5" y2="26.6" stroke="rgba(30,30,30,0.64)" stroke-width="0.75"/>
<line x1="30.5" y1="29.5" x2="65.5" y2="29.5" stroke="rgba(30,30,30,0.64)" stroke-width="0.75"/>
<line x1="30.5" y1="32.3" x2="65.5" y2="32.3" stroke="rgba(30,30,30,0.64)" stroke-width="0.75"/>
<text x="32" y="21.6" font-family="Liberation Sans, Arial, sans-serif" font-size="20.5" fill="rgba(30,30,30,0.64)" textLength="32.3" lengthAdjust="spacingAndGlyphs">nes</text>
</g>
<g transform="translate(365.6,383.1)">
<path d="M0.6,0.6 H26 V6.3 H8 V13.4 H26 V20.2 H8 V26.6 H26 V32.6 H0.6 Z" fill="none" stroke="rgba(30,30,30,0.64)" stroke-width="1.5" stroke-linejoin="miter"/>
<line x1="30.5" y1="0.6" x2="65.5" y2="0.6" stroke="rgba(30,30,30,0.64)" stroke-width="0.75"/>
<line x1="30.5" y1="3.5" x2="65.5" y2="3.5" stroke="rgba(30,30,30,0.64)" stroke-width="0.75"/>
<line x1="30.5" y1="6.3" x2="65.5" y2="6.3" stroke="rgba(30,30,30,0.64)" stroke-width="0.75"/>
<line x1="30.5" y1="26.6" x2="65.5" y2="26.6" stroke="rgba(30,30,30,0.64)" stroke-width="0.75"/>
<line x1="30.5" y1="29.5" x2="65.5" y2="29.5" stroke="rgba(30,30,30,0.64)" stroke-width="0.75"/>
<line x1="30.5" y1="32.3" x2="65.5" y2="32.3" stroke="rgba(30,30,30,0.64)" stroke-width="0.75"/>
<text x="32" y="21.6" font-family="Liberation Sans, Arial, sans-serif" font-size="20.5" fill="rgba(30,30,30,0.64)" textLength="32.3" lengthAdjust="spacingAndGlyphs">nes</text>
</g>
<g transform="translate(571,365.2)">
<path d="M0.6,0.6 H26 V6.3 H8 V13.4 H26 V20.2 H8 V26.6 H26 V32.6 H0.6 Z" fill="none" stroke="rgba(30,30,30,0.64)" stroke-width="1.5" stroke-linejoin="miter"/>
<line x1="30.5" y1="0.6" x2="65.5" y2="0.6" stroke="rgba(30,30,30,0.64)" stroke-width="0.75"/>
<line x1="30.5" y1="3.5" x2="65.5" y2="3.5" stroke="rgba(30,30,30,0.64)" stroke-width="0.75"/>
<line x1="30.5" y1="6.3" x2="65.5" y2="6.3" stroke="rgba(30,30,30,0.64)" stroke-width="0.75"/>
<line x1="30.5" y1="26.6" x2="65.5" y2="26.6" stroke="rgba(30,30,30,0.64)" stroke-width="0.75"/>
<line x1="30.5" y1="29.5" x2="65.5" y2="29.5" stroke="rgba(30,30,30,0.64)" stroke-width="0.75"/>
<line x1="30.5" y1="32.3" x2="65.5" y2="32.3" stroke="rgba(30,30,30,0.64)" stroke-width="0.75"/>
<text x="32" y="21.6" font-family="Liberation Sans, Arial, sans-serif" font-size="20.5" fill="rgba(30,30,30,0.64)" textLength="32.3" lengthAdjust="spacingAndGlyphs">nes</text>
</g>
<g transform="translate(163.1,513.1)">
<path d="M0.6,0.6 H26 V6.3 H8 V13.4 H26 V20.2 H8 V26.6 H26 V32.6 H0.6 Z" fill="none" stroke="rgba(30,30,30,0.64)" stroke-width="1.5" stroke-linejoin="miter"/>
<line x1="30.5" y1="0.6" x2="65.5" y2="0.6" stroke="rgba(30,30,30,0.64)" stroke-width="0.75"/>
<line x1="30.5" y1="3.5" x2="65.5" y2="3.5" stroke="rgba(30,30,30,0.64)" stroke-width="0.75"/>
<line x1="30.5" y1="6.3" x2="65.5" y2="6.3" stroke="rgba(30,30,30,0.64)" stroke-width="0.75"/>
<line x1="30.5" y1="26.6" x2="65.5" y2="26.6" stroke="rgba(30,30,30,0.64)" stroke-width="0.75"/>
<line x1="30.5" y1="29.5" x2="65.5" y2="29.5" stroke="rgba(30,30,30,0.64)" stroke-width="0.75"/>
<line x1="30.5" y1="32.3" x2="65.5" y2="32.3" stroke="rgba(30,30,30,0.64)" stroke-width="0.75"/>
<text x="32" y="21.6" font-family="Liberation Sans, Arial, sans-serif" font-size="20.5" fill="rgba(30,30,30,0.64)" textLength="32.3" lengthAdjust="spacingAndGlyphs">nes</text>
</g>
<g transform="translate(365.3,512.3)">
<path d="M0.6,0.6 H26 V6.3 H8 V13.4 H26 V20.2 H8 V26.6 H26 V32.6 H0.6 Z" fill="none" stroke="rgba(30,30,30,0.64)" stroke-width="1.5" stroke-linejoin="miter"/>
<line x1="30.5" y1="0.6" x2="65.5" y2="0.6" stroke="rgba(30,30,30,0.64)" stroke-width="0.75"/>
<line x1="30.5" y1="3.5" x2="65.5" y2="3.5" stroke="rgba(30,30,30,0.64)" stroke-width="0.75"/>
<line x1="30.5" y1="6.3" x2="65.5" y2="6.3" stroke="rgba(30,30,30,0.64)" stroke-width="0.75"/>
<line x1="30.5" y1="26.6" x2="65.5" y2="26.6" stroke="rgba(30,30,30,0.64)" stroke-width="0.75"/>
<line x1="30.5" y1="29.5" x2="65.5" y2="29.5" stroke="rgba(30,30,30,0.64)" stroke-width="0.75"/>
<line x1="30.5" y1="32.3" x2="65.5" y2="32.3" stroke="rgba(30,30,30,0.64)" stroke-width="0.75"/>
<text x="32" y="21.6" font-family="Liberation Sans, Arial, sans-serif" font-size="20.5" fill="rgba(30,30,30,0.64)" textLength="32.3" lengthAdjust="spacingAndGlyphs">nes</text>
</g>
<g transform="translate(570.6,513.2)">
<path d="M0.6,0.6 H26 V6.3 H8 V13.4 H26 V20.2 H8 V26.6 H26 V32.6 H0.6 Z" fill="none" stroke="rgba(30,30,30,0.64)" stroke-width="1.5" stroke-linejoin="miter"/>
<line x1="30.5" y1="0.6" x2="65.5" y2="0.6" stroke="rgba(30,30,30,0.64)" stroke-width="0.75"/>
<line x1="30.5" y1="3.5" x2="65.5" y2="3.5" stroke="rgba(30,30,30,0.64)" stroke-width="0.75"/>
<line x1="30.5" y1="6.3" x2="65.5" y2="6.3" stroke="rgba(30,30,30,0.64)" stroke-width="0.75"/>
<line x1="30.5" y1="26.6" x2="65.5" y2="26.6" stroke="rgba(30,30,30,0.64)" stroke-width="0.75"/>
<line x1="30.5" y1="29.5" x2="65.5" y2="29.5" stroke="rgba(30,30,30,0.64)" stroke-width="0.75"/>
<line x1="30.5" y1="32.3" x2="65.5" y2="32.3" stroke="rgba(30,30,30,0.64)" stroke-width="0.75"/>
<text x="32" y="21.6" font-family="Liberation Sans, Arial, sans-serif" font-size="20.5" fill="rgba(30,30,30,0.64)" textLength="32.3" lengthAdjust="spacingAndGlyphs">nes</text>
</g>
<text x="234.75" y="163.75" font-family="DejaVu Sans, Verdana, sans-serif" font-size="14.6" fill="rgba(35,35,35,0.47)" textLength="102.8" lengthAdjust="spacingAndGlyphs">enesmagnets.pl</text>
<text x="457.5" y="163.3" font-family="DejaVu Sans, Verdana, sans-serif" font-size="14.6" fill="rgba(35,35,35,0.47)" textLength="102.8" lengthAdjust="spacingAndGlyphs">enesmagnets.pl</text>
<text x="232.5" y="329" font-family="DejaVu Sans, Verdana, sans-serif" font-size="14.6" fill="rgba(35,35,35,0.47)" textLength="102.8" lengthAdjust="spacingAndGlyphs">enesmagnets.pl</text>
<text x="457" y="329" font-family="DejaVu Sans, Verdana, sans-serif" font-size="14.6" fill="rgba(35,35,35,0.47)" textLength="102.8" lengthAdjust="spacingAndGlyphs">enesmagnets.pl</text>
<text x="233.25" y="462.5" font-family="DejaVu Sans, Verdana, sans-serif" font-size="14.6" fill="rgba(35,35,35,0.47)" textLength="102.8" lengthAdjust="spacingAndGlyphs">enesmagnets.pl</text>
<text x="464.75" y="462.5" font-family="DejaVu Sans, Verdana, sans-serif" font-size="14.6" fill="rgba(35,35,35,0.47)" textLength="102.8" lengthAdjust="spacingAndGlyphs">enesmagnets.pl</text>
<g transform="translate(0,0)">
<circle cx="340" cy="182.6" r="15.3" fill="none" stroke="#000" stroke-width="8.6"/>
<path d="M317.4,194.5 L362.4,194.5 Q370.4,194.5 372.2,202.3 L383.05,250.6 Q384.7,257.6 377.6,257.6 L302.2,257.6 Q295.1,257.6 296.75,250.6 L307.6,202.3 Q309.4,194.5 317.4,194.5 Z" fill="#000"/>
<text x="319.6" y="220" font-family="Liberation Sans, Arial, sans-serif" font-size="20.3" fill="#e6d522" text-anchor="start" textLength="41" lengthAdjust="spacingAndGlyphs" stroke="#e6d522" stroke-width="0.3">*MAX</text>
<text x="303.9" y="247.7" font-family="Liberation Sans, Arial, sans-serif" font-size="24.4" font-weight="bold" fill="#1fd3e0" text-anchor="start" textLength="52.0" lengthAdjust="spacingAndGlyphs" stroke="#1fd3e0" stroke-width="0.55" stroke-linejoin="round">~4.72</text>
<text x="358.9" y="247.1" font-family="Liberation Sans, Arial, sans-serif" font-size="14.7" font-weight="bold" fill="#1fd3e0" text-anchor="start" textLength="16.6" lengthAdjust="spacingAndGlyphs" stroke="#1fd3e0" stroke-width="0.2">kG</text>
</g>
<g transform="translate(299.4,0)">
<circle cx="340" cy="182.6" r="15.3" fill="none" stroke="#000" stroke-width="8.6"/>
<path d="M317.4,194.5 L362.4,194.5 Q370.4,194.5 372.2,202.3 L383.05,250.6 Q384.7,257.6 377.6,257.6 L302.2,257.6 Q295.1,257.6 296.75,250.6 L307.6,202.3 Q309.4,194.5 317.4,194.5 Z" fill="#000"/>
<text x="319.6" y="220" font-family="Liberation Sans, Arial, sans-serif" font-size="20.3" fill="#e6d522" text-anchor="start" textLength="41" lengthAdjust="spacingAndGlyphs" stroke="#e6d522" stroke-width="0.3">*MAX</text>
<text x="303.9" y="247.7" font-family="Liberation Sans, Arial, sans-serif" font-size="24.4" font-weight="bold" fill="#1fd3e0" text-anchor="start" textLength="52.0" lengthAdjust="spacingAndGlyphs" stroke="#1fd3e0" stroke-width="0.55" stroke-linejoin="round">~1.36</text>
<text x="358.9" y="247.1" font-family="Liberation Sans, Arial, sans-serif" font-size="14.7" font-weight="bold" fill="#1fd3e0" text-anchor="start" textLength="16.6" lengthAdjust="spacingAndGlyphs" stroke="#1fd3e0" stroke-width="0.2">kG</text>
</g>
<g transform="translate(0,299.1)">
<circle cx="340" cy="182.6" r="15.3" fill="none" stroke="#000" stroke-width="8.6"/>
<path d="M317.4,194.5 L362.4,194.5 Q370.4,194.5 372.2,202.3 L383.05,250.6 Q384.7,257.6 377.6,257.6 L302.2,257.6 Q295.1,257.6 296.75,250.6 L307.6,202.3 Q309.4,194.5 317.4,194.5 Z" fill="#000"/>
<text x="323.0" y="219.9" font-family="Liberation Sans, Arial, sans-serif" font-size="20.0" fill="#e6d522" text-anchor="start" textLength="34.6" lengthAdjust="spacingAndGlyphs" stroke="#e6d522" stroke-width="0.3">MAX</text>
<text x="303.9" y="247.7" font-family="Liberation Sans, Arial, sans-serif" font-size="24.4" font-weight="bold" fill="#1fd3e0" text-anchor="start" textLength="49.6" lengthAdjust="spacingAndGlyphs" stroke="#1fd3e0" stroke-width="0.55" stroke-linejoin="round">~0.61</text>
<text x="358.9" y="247.1" font-family="Liberation Sans, Arial, sans-serif" font-size="14.7" font-weight="bold" fill="#1fd3e0" text-anchor="start" textLength="16.6" lengthAdjust="spacingAndGlyphs" stroke="#1fd3e0" stroke-width="0.2">kG</text>
</g>
<g transform="translate(299.4,299.1)">
<circle cx="340" cy="182.6" r="15.3" fill="none" stroke="#000" stroke-width="8.6"/>
<path d="M317.4,194.5 L362.4,194.5 Q370.4,194.5 372.2,202.3 L383.05,250.6 Q384.7,257.6 377.6,257.6 L302.2,257.6 Q295.1,257.6 296.75,250.6 L307.6,202.3 Q309.4,194.5 317.4,194.5 Z" fill="#000"/>
<text x="323.0" y="219.9" font-family="Liberation Sans, Arial, sans-serif" font-size="20.0" fill="#e6d522" text-anchor="start" textLength="34.6" lengthAdjust="spacingAndGlyphs" stroke="#e6d522" stroke-width="0.3">MAX</text>
<text x="303.9" y="247.7" font-family="Liberation Sans, Arial, sans-serif" font-size="24.4" font-weight="bold" fill="#1fd3e0" text-anchor="start" textLength="52.0" lengthAdjust="spacingAndGlyphs" stroke="#1fd3e0" stroke-width="0.55" stroke-linejoin="round">~0.33</text>
<text x="358.9" y="247.1" font-family="Liberation Sans, Arial, sans-serif" font-size="14.7" font-weight="bold" fill="#1fd3e0" text-anchor="start" textLength="16.6" lengthAdjust="spacingAndGlyphs" stroke="#1fd3e0" stroke-width="0.2">kG</text>
</g>
</g>
</svg>
</body></html>
